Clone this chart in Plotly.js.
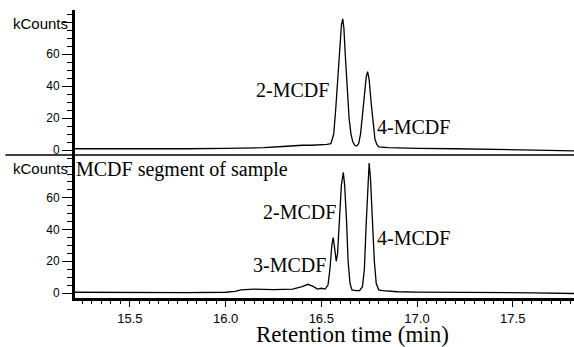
<!DOCTYPE html>
<html>
<head>
<meta charset="utf-8">
<script src="https://cdn.plot.ly/plotly-3.0.1.min.js"></script>
<style>html,body{margin:0;padding:0;background:#fff;}#chart{width:574px;height:347px;}</style>
</head>
<body>
<div id="chart"></div>
<script>
// Top panel: genuine standards of MCDF (retention time, kCounts)
const stdTime = [15.20,15.40,15.60,15.80,16.00,16.10,16.20,16.30,16.35,16.40,16.45,16.50,16.53,16.55,
  16.565,16.575,16.585,16.595,16.605,16.612,16.618,16.625,16.635,16.645,16.655,16.665,16.675,16.685,
  16.695,16.705,16.715,16.725,16.735,16.742,16.750,16.760,16.770,16.780,16.790,16.800,16.850,16.900,
  17.00,17.20,17.40,17.60,17.82];
const stdCounts = [0.8,0.7,0.6,0.8,1.0,1.2,1.5,2.2,2.8,3.0,3.0,3.2,3.5,4.0,
  10,25,45,65,78,82,76,60,38,20,10,5,3,2.5,
  4,10,22,36,46,49,44,30,16,7,3.5,2,1.5,1.3,
  1.0,0.8,0.5,0.2,-0.5];

// Bottom panel: MCDF segment of sample
const smpTime = [15.20,15.40,15.60,15.80,16.00,16.05,16.08,16.15,16.25,16.35,16.40,16.43,16.46,16.48,16.50,16.52,
  16.535,16.545,16.555,16.562,16.570,16.578,16.585,16.595,16.605,16.615,16.622,16.632,16.640,16.650,16.660,
  16.680,16.700,16.715,16.725,16.735,16.745,16.750,16.757,16.767,16.777,16.787,16.800,16.820,16.850,16.900,
  17.00,17.20,17.40,17.60,17.82];
const smpCounts = [0.5,0.4,0.2,0.3,0.5,1.0,2.0,2.5,2.2,2.5,4.0,5.5,4.0,2.5,3.0,2.5,
  5,15,30,35,28,20,25,50,68,76,68,45,20,6,2,
  1.5,1.5,4,15,45,75,82,72,45,20,6,2,1.5,1.2,0.8,
  0.6,0.5,0.4,0.1,-0.3];

const yUnitLabel = 'kCounts';
const titleTop = 'Genuine standards of MCDF';
const titleBottom = 'MCDF segment of sample';
const xTitle = 'Retention time (min)';

const lineStyle = {color:'#000', width:1.3};
const traces = [
  {x: stdTime, y: stdCounts, xaxis:'x2', yaxis:'y2', mode:'lines', line: lineStyle, hoverinfo:'skip'},
  {x: smpTime, y: smpCounts, xaxis:'x', yaxis:'y', mode:'lines', line: lineStyle, hoverinfo:'skip'}
];

const serifFam = '"Liberation Serif", "Times New Roman", serif';
const sansFam = '"Liberation Sans", Arial, sans-serif';
const serif = {family:serifFam, size:20, color:'#000'};

function yAxis(domain, anchor, range) {
  return {
    domain: domain, anchor: anchor, range: range,
    tickmode:'linear', tick0:0, dtick:20,
    labelalias:{'80':' '},
    ticks:'outside', ticklen:10, tickwidth:1, tickcolor:'#000',
    minor:{tickmode:'linear', tick0:0, dtick:5, ticks:'outside', ticklen:5, tickwidth:1, tickcolor:'#000', showgrid:false},
    showline:true, linecolor:'#000', linewidth:1, showgrid:false, zeroline:false,
    tickfont:{family:sansFam, size:12, color:'#000'}
  };
}

const layout = {
  width:574, height:347,
  margin:{l:73, r:0, t:10, b:47},
  showlegend:false,
  xaxis:{
    domain:[0,1], anchor:'y', range:[15.203,17.82],
    tickmode:'linear', tick0:15.5, dtick:0.5, tickformat:'.1f',
    ticks:'outside', ticklen:6, tickwidth:1, tickcolor:'#000',
    minor:{tickmode:'linear', tick0:15.5, dtick:0.05, ticks:'outside', ticklen:3, tickwidth:1, tickcolor:'#000', showgrid:false},
    showline:true, linecolor:'#000', linewidth:1, showgrid:false, zeroline:false,
    tickfont:{family:sansFam, size:13, color:'#000'}
  },
  xaxis2:{
    domain:[0,1], anchor:'y2', matches:'x',
    showticklabels:false, ticks:'', showline:false, showgrid:false, zeroline:false
  },
  yaxis: yAxis([0,0.5], 'x', [-4.4,87]),
  yaxis2: yAxis([0.5,1], 'x2', [-3.1,87.5]),
  shapes:[
    {type:'line', xref:'paper', yref:'paper', x0:-0.135, x1:1, y0:0.5, y1:0.5, line:{color:'#000', width:1.3}},
    {type:'rect', xref:'paper', yref:'paper', x0:0, x1:0.004, y0:0, y1:1, fillcolor:'#000', line:{width:0}},
    {type:'rect', xref:'paper', yref:'paper', x0:0, x1:1, y0:0, y1:0.007, fillcolor:'#000', line:{width:0}}
  ],
  annotations:[
    {text:yUnitLabel, xref:'paper', yref:'paper', x:-0.006, y:0.952, xanchor:'right', yanchor:'middle', showarrow:false, font:{family:sansFam, size:15, color:'#000'}},
    {text:yUnitLabel, xref:'paper', yref:'paper', x:-0.006, y:0.452, xanchor:'right', yanchor:'middle', showarrow:false, font:{family:sansFam, size:15, color:'#000'}},
    {text:xTitle, xref:'paper', yref:'paper', x:0.557, y:-0.12, xanchor:'center', yanchor:'middle', showarrow:false, font:{family:serifFam, size:23, color:'#000'}},
    {text:titleTop, xref:'x2', yref:'y2', x:15.199, y:81.3, xanchor:'left', yanchor:'middle', showarrow:false, font:serif},
    {text:'2-MCDF', xref:'x2', yref:'y2', x:16.347, y:37.5, xanchor:'center', yanchor:'middle', showarrow:false, font:serif},
    {text:'4-MCDF', xref:'x2', yref:'y2', x:16.78, y:14.4, xanchor:'left', yanchor:'middle', showarrow:false, font:serif},
    {text:titleBottom, xref:'x', yref:'y', x:15.208, y:77.6, xanchor:'left', yanchor:'middle', showarrow:false, font:serif},
    {text:'2-MCDF', xref:'x', yref:'y', x:16.386, y:51.1, xanchor:'center', yanchor:'middle', showarrow:false, font:serif},
    {text:'4-MCDF', xref:'x', yref:'y', x:16.78, y:34.7, xanchor:'left', yanchor:'middle', showarrow:false, font:serif},
    {text:'3-MCDF', xref:'x', yref:'y', x:16.334, y:17.7, xanchor:'center', yanchor:'middle', showarrow:false, font:serif}
  ]
};

Plotly.newPlot('chart', traces, layout, {displayModeBar:false});
</script>
</body>
</html>
